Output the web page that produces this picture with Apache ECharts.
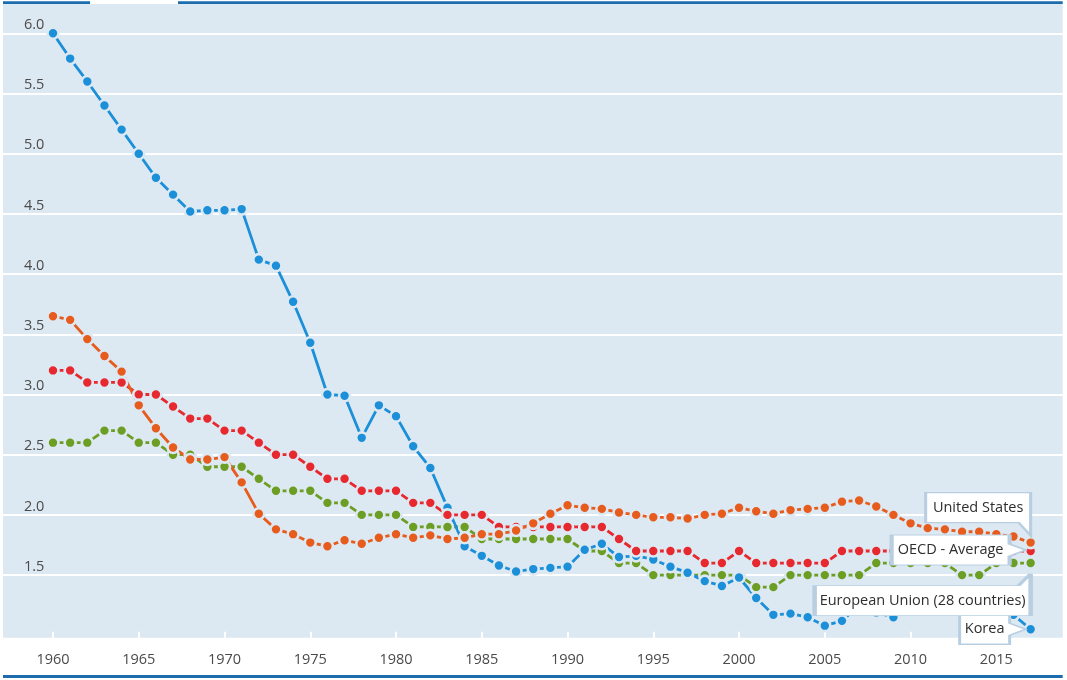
<!DOCTYPE html>
<html>
<head>
<meta charset="utf-8">
<script src="https://cdn.jsdelivr.net/npm/echarts@6/dist/echarts.min.js"></script>
<style>
html,body{margin:0;padding:0;background:#fff;}
#chart{width:1067px;height:680px;}
</style>
</head>
<body>
<div id="chart"></div>
<script>
const years = [1960,1961,1962,1963,1964,1965,1966,1967,1968,1969,1970,1971,1972,1973,1974,1975,1976,1977,1978,1979,1980,1981,1982,1983,1984,1985,1986,1987,1988,1989,1990,1991,1992,1993,1994,1995,1996,1997,1998,1999,2000,2001,2002,2003,2004,2005,2006,2007,2008,2009,2010,2011,2012,2013,2014,2015,2016,2017];
const korea = [6.00,5.79,5.60,5.40,5.20, 5.00,4.80,4.66,4.52,4.53, 4.53,4.54,4.12,4.07,3.77, 3.43,3.00,2.99,2.64,2.91, 2.82,2.57,2.39,2.06,1.74, 1.66,1.58,1.53,1.55,1.56, 1.57,1.71,1.76,1.65,1.66, 1.63,1.57,1.52,1.45,1.41, 1.48,1.31,1.17,1.18,1.15, 1.08,1.12,1.25,1.19,1.15, 1.23,1.24,1.30,1.19,1.21, 1.24,1.17,1.05];
const oecd = [3.2,3.2,3.1,3.1,3.1, 3.0,3.0,2.9,2.8,2.8, 2.7,2.7,2.6,2.5,2.5, 2.4,2.3,2.3,2.2,2.2, 2.2,2.1,2.1,2.0,2.0, 2.0,1.9,1.9,1.9,1.9, 1.9,1.9,1.9,1.8,1.7, 1.7,1.7,1.7,1.6,1.6, 1.7,1.6,1.6,1.6,1.6, 1.6,1.7,1.7,1.7,1.7, 1.7,1.7,1.7,1.7,1.7, 1.7,1.7,1.7];
const eu = [2.6,2.6,2.6,2.7,2.7, 2.6,2.6,2.5,2.5,2.4, 2.4,2.4,2.3,2.2,2.2, 2.2,2.1,2.1,2.0,2.0, 2.0,1.9,1.9,1.9,1.9, 1.8,1.8,1.8,1.8,1.8, 1.8,1.7,1.7,1.6,1.6, 1.5,1.5,1.5,1.5,1.5, 1.5,1.4,1.4,1.5,1.5, 1.5,1.5,1.5,1.6,1.6, 1.6,1.6,1.6,1.5,1.5, 1.6,1.6,1.6];
const us = [3.65,3.62,3.46,3.32,3.19, 2.91,2.72,2.56,2.46,2.46, 2.48,2.27,2.01,1.88,1.84, 1.77,1.74,1.79,1.76,1.81, 1.84,1.81,1.83,1.80,1.81, 1.84,1.84,1.87,1.93,2.01, 2.08,2.06,2.05,2.02,2.00, 1.98,1.98,1.97,2.00,2.01, 2.06,2.03,2.01,2.04,2.05, 2.06,2.11,2.12,2.07,2.00, 1.93,1.89,1.88,1.86,1.86, 1.84,1.82,1.77];
const xTicks = [1960,1965,1970,1975,1980,1985,1990,1995,2000,2005,2010,2015];
const names = ['European Union (28 countries)','Korea','OECD - Average','United States'];

const BG = '#dde9f2';
const FONT = 'Open Sans';
const colors = {eu:'#6b9e23', korea:'#1b8fd8', oecd:'#e8282f', us:'#e75b1d'};

function pairs(vals){ return years.map((y,i)=>[y, vals[i]]); }
function lastPt(vals){ const n = years.length - 1; return [{coord:[years[n], vals[n]]}]; }

function callout(name, vals, path, size, symOff, labOff, z){
  return {
    z: z, silent: true, animation: false,
    symbol: path, symbolSize: size, symbolOffset: symOff,
    itemStyle: {color:'#ffffff', borderColor:'#b9cfe1', borderWidth:2},
    label: {show:true, position:'inside', formatter: name, color:'#2e2e2e', fontSize:14.5, fontFamily:FONT, offset: labOff},
    data: lastPt(vals)
  };
}

function lineSeries(name, vals, color, mp){
  return {
    name: name, type:'line', data: pairs(vals), clip:false, silent:true,
    symbol:'circle', symbolSize:11, showAllSymbol:true,
    lineStyle:{color:color, width:2.8},
    itemStyle:{color:color, borderColor:BG, borderWidth:2.6},
    emphasis:{disabled:true},
    markPoint: mp
  };
}

const chart = echarts.init(document.getElementById('chart'), null, {renderer:'canvas'});
chart.setOption({
  animation:false,
  textStyle:{fontFamily:FONT},
  graphic:[
    {type:'rect', z:-1, shape:{x:3, y:4, width:1059.7, height:633.7}, style:{fill:BG}},
    {type:'rect', z:-1, shape:{x:3, y:1.3, width:87, height:2.7}, style:{fill:'#1d6cad'}},
    {type:'rect', z:-1, shape:{x:178, y:1.3, width:884.7, height:2.7}, style:{fill:'#1d6cad'}},
    {type:'rect', z:-1, shape:{x:3, y:675, width:1059.7, height:3}, style:{fill:'#1d6cad'}}
  ],
  grid:{left:3, right:4.3, top:33.3, bottom:44.7, containLabel:false},
  xAxis:{
    type:'value', min:1957.085, max:2018.87, offset:2.4,
    axisLine:{show:false},
    axisTick:{show:true, inside:true, length:6, customValues:xTicks, lineStyle:{color:'#ffffff', width:2}},
    axisLabel:{show:true, customValues:xTicks, margin:15, color:'#4a4a4a', fontSize:14.5, fontFamily:FONT, formatter:(v)=>String(v)},
    splitLine:{show:false}
  },
  yAxis:{
    type:'value', min:1, max:6, interval:0.5,
    axisLine:{show:false}, axisTick:{show:false},
    axisLabel:{show:true, inside:true, margin:21, showMinLabel:false, align:'left', verticalAlign:'bottom', lineHeight:15, padding:[0,0,1,0],
      color:'#4a4a4a', fontSize:14.5, fontFamily:FONT, formatter:(v)=>v.toFixed(1)},
    splitLine:{show:true, showMinLine:false, lineStyle:{color:'#ffffff', width:2}}
  },
  series:[
    lineSeries(names[0], eu, colors.eu,
      callout(names[0], eu, 'path://M0 12 H204 L216 0 V42 H0 Z', [216,42], [-108,31.6], [0,6], 7)),
    lineSeries(names[1], korea, colors.korea,
      callout(names[1], korea, 'path://M0 0 H50 V9 L66 15 L50 21 V30 H0 Z', [66,30], [-38,0], [-8,0], 6)),
    lineSeries(names[2], oecd, colors.oecd,
      callout(names[2], oecd, 'path://M0 0 H118 V9 L134 15 L118 21 V30 H0 Z', [134,30], [-72,-1], [-8,0], 6)),
    lineSeries(names[3], us, colors.us,
      callout(names[3], us, 'path://M0 0 H105 V43 L93 30 H0 Z', [105,43], [-52.5,-28.5], [0,-6.5], 6))
  ]
});
</script>
</body>
</html>
